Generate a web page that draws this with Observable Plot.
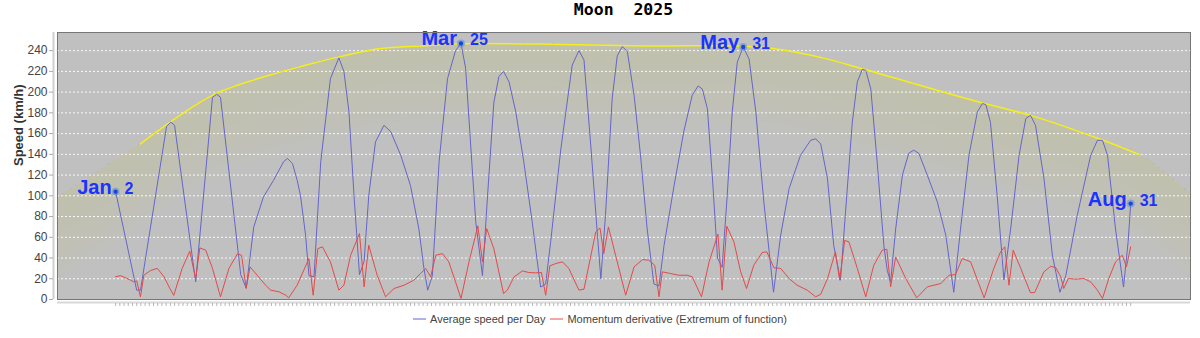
<!DOCTYPE html>
<html><head><meta charset="utf-8">
<script src="https://cdn.jsdelivr.net/npm/d3@7"></script>
<script src="https://cdn.jsdelivr.net/npm/@observablehq/plot@0.6"></script>
<style>
body{margin:0;background:#fff;width:1200px;height:338px;overflow:hidden;font-family:"Liberation Sans",Arial,sans-serif}
#title{height:27px;line-height:28px;margin-left:57px;width:1133px;text-align:center;font:bold 16.5px "DejaVu Sans Mono",monospace;color:#000;white-space:pre}
#chart{height:284px}
#legend{display:flex;justify-content:center;align-items:center;height:16px;font:11px "Liberation Sans",Arial,sans-serif;color:#444}
#legend svg{margin-right:4px;display:block}
</style></head><body>
<div id="title">Moon  2025</div>
<div id="chart"></div>
<div id="legend"><svg width="13" height="4"><line x1="0" x2="13" y1="2" y2="2" stroke="#7b7be0" stroke-width="1.2"/></svg>Average speed per Day<span style="display:inline-block;width:5px"></span><svg width="13" height="4"><line x1="0" x2="13" y1="2" y2="2" stroke="#ec6b6b" stroke-width="1.2"/></svg>Momentum derivative (Extremum of function)</div>
<script>
// day index (0 = Jan. 2, 241 = Aug. 31), speed km/h
const blueSeries = [[0,104],[5.0,9],[5.9,9],[12.1,167],[13.1,171],[14.0,168],[19.0,17],[23.0,195],[24.0,198],[24.9,195],[29.7,24],[31.0,11],[32.8,70],[35.1,99],[37.5,115],[39.9,133],[40.8,136],[42.0,131],[43.1,115],[43.9,100],[45.1,62],[45.9,23],[47.1,22],[48.7,133],[51.0,213],[53.0,233],[54.2,220],[55.4,181],[56.6,100],[57.9,24],[59.0,37],[60.1,100],[61.7,152],[63.7,168],[65.3,162],[67.7,139],[70.0,110],[72.0,68],[73.2,30],[74.1,9],[75.2,23],[76.8,133],[78.8,213],[80.7,240],[82,247],[83.1,223],[84.3,149],[85.5,75],[87.1,23],[88.3,100],[89.8,190],[91.0,215],[92.1,220],[93.4,210],[95.0,181],[96.9,133],[98.9,75],[100.9,12],[102.1,15],[103.3,56],[105.7,145],[108.4,226],[110.0,240],[111.2,231],[112.8,149],[114.4,62],[115.2,20],[116.3,81],[117.9,194],[119.1,235],[120.3,244],[121.5,239],[123.1,197],[124.6,140],[126.2,68],[127.8,15],[129.0,13],[130.2,52],[132.6,110],[134.9,162],[136.9,197],[138.3,206],[139.3,203],[140.5,184],[141.7,117],[142.9,40],[144.0,31],[145.2,100],[146.4,181],[147.6,229],[149,243.5],[150.4,232],[152.0,181],[153.9,94],[156.2,7],[157.9,62],[159.9,107],[162.6,139],[165.0,153.5],[166.2,155],[167.4,150],[169.0,117],[170.5,52],[172.1,18.6],[173.3,84.5],[174.9,171],[176.1,210],[177.3,222],[178.1,221],[179.3,203],[180.8,133],[182.4,52],[183.2,28],[184.0,17],[185.2,68],[186.8,120],[188.3,141],[189.5,144],[190.7,141],[192.7,120],[195.1,94],[197.1,62],[199.0,7],[200.6,68],[202.6,139],[204.6,181],[205.8,189],[206.6,188],[207.7,171],[209.3,100],[210.9,19],[212.5,68],[214.5,139],[216.1,174.5],[217.2,177.6],[218.4,168],[220.4,117],[222.4,43],[224.2,7],[225.6,23],[228.3,81],[231.5,139],[233.1,153.5],[234.3,153.5],[235.5,139],[237.4,68],[239.3,12],[240.4,56],[241,92.5]];

const redSeries = [[0,22],[1.2,23],[3.6,18.6],[4.3,17],[5.0,18],[5.9,2.6],[6.7,23.4],[8.3,28],[9.9,30],[11.5,22],[12.7,12],[13.8,4],[15.8,30],[17.6,46.6],[19.0,20],[20.0,49.8],[21.4,47.5],[23.0,30],[24.9,2.6],[26.9,30],[28.9,44],[29.9,42.7],[31.0,10.6],[31.9,31.5],[33.6,23.4],[35.6,13.8],[36.8,9],[38.8,7.4],[40.4,4.1],[41.1,1.6],[43.1,13.8],[45.9,39.5],[46.9,4.1],[48.0,49],[49.1,50.8],[51.0,36.3],[53.0,9],[54.2,13.8],[55.8,42.7],[57.9,63.6],[59.0,12.2],[60.1,52.3],[62.1,23.4],[64.1,2.6],[66.1,10.6],[68.5,13.8],[70.8,18.6],[72.4,25],[73.6,30],[74.8,21.9],[76.0,42.7],[77.6,44.3],[79.1,36.3],[80.7,17],[82.0,1],[83.9,36.3],[86.0,71],[87.1,36.3],[88.1,68.4],[89.8,49],[92.1,5.8],[93.0,9],[94.6,21.9],[96.6,27.6],[98.1,26],[99.7,25.7],[101.1,26],[102.1,4.1],[103.1,32.5],[104.5,34.7],[106.1,36.3],[107.6,30],[110.0,9],[111.2,10],[114.0,65.2],[115.0,69],[115.9,44.3],[117.0,70],[118.7,42.7],[121.1,4.1],[123.1,31.5],[125.1,38.5],[126.6,37.9],[128.0,33],[129.0,2.6],[129.8,26.7],[131.8,25],[133.7,23.4],[135.7,23.4],[136.9,21.9],[139.1,2.6],[140.9,36.3],[143.0,63],[144.0,9],[145.1,70.7],[146.8,55.6],[148.4,26.7],[149.8,10.6],[151.5,33],[153.5,45.3],[154.6,46],[156.3,30.6],[157.9,30],[159.9,20.2],[161.8,13.8],[164.2,9],[166.2,2.6],[167.4,5],[169.0,20],[170.9,46],[171.9,18.6],[173.1,57],[174.1,55.6],[176.1,30],[178.1,2.6],[180.0,33],[182.0,47.5],[183.1,48.5],[184.0,12.2],[185.2,41],[187.6,20.2],[190.2,1.6],[192.7,12.2],[195.9,15.4],[197.9,23.4],[199.4,24],[201.0,39.5],[203.0,36.3],[206.2,1.6],[208.5,30],[210.1,46],[211.1,50.8],[212.1,13.8],[213.1,47.5],[214.9,30],[217.2,6.5],[218.2,6.7],[220.4,26.7],[222.0,32],[223.2,30.8],[224.4,21.9],[225.1,10.6],[226.2,20.2],[227.9,19.6],[229.9,20.2],[231.5,17],[233.1,9],[234.3,1],[235.8,20.2],[237.4,36.3],[239.0,42.7],[240.0,31.5],[241,50.8]];

// upper envelope (yellow)
const envelope = [[5.9,150],[13.1,171.6],[24.0,199],[39.2,219.5],[43.9,224.6],[53.0,234],[62.9,242],[72.4,244.5],[82.0,246.7],[105.7,246],[125.8,244.5],[148.4,244.5],[156.0,242],[168.6,232.3],[177.7,222],[205.4,190],[217.2,177.6],[233.5,155],[243.0,139.8]];
const envelopeEnds = [[-13.8,98],[255.2,102]];

const labelDays = [0, 82, 149, 241];
const labelNames = ["Jan", "Mar", "May", "Aug"];
const labelNums = ["2", "25", "31", "31"];

const yTicks = [0,20,40,60,80,100,120,140,160,180,200,220,240];
const dayTicks = d3.range(0, 242);

const envArea = [envelopeEnds[0], ...envelope, envelopeEnds[1]];
const labelPts = labelDays.map((d, i) => ({
  d, v: blueSeries.find(p => p[0] === d)[1], name: labelNames[i], num: labelNums[i]
}));
const bandOffsets = d3.range(6, 90, 6);

const chart = Plot.plot({
  width: 1200, height: 284,
  marginLeft: 57, marginRight: 10, marginTop: 5, marginBottom: 12,
  x: {domain: [-13.8, 255.2], label: null},
  y: {domain: [0, 257.5], label: null},
  style: {fontFamily: "'Liberation Sans', Arial, sans-serif", fontSize: "12px", background: "white", color: "#444", overflow: "visible"},
  marks: [
    Plot.frame({fill: "#c0c0c0"}),
    ...bandOffsets.map(off => Plot.areaY(envArea, {
      x: p => p[0], y1: p => Math.max(0, p[1] - off), y2: p => p[1],
      curve: "catmull-rom", fill: "#e4e49a", fillOpacity: 0.028
    })),
    Plot.gridY(yTicks, {stroke: "#ffffff", strokeOpacity: 0.9, strokeDasharray: "2,2"}),
    Plot.line(envelope, {x: p => p[0], y: p => p[1], curve: "catmull-rom", stroke: "#f4ef1c", strokeWidth: 1.5}),
    Plot.line(blueSeries, {x: p => p[0], y: p => p[1], stroke: "#6565c9", strokeWidth: 1}),
    Plot.line(redSeries, {x: p => p[0], y: p => p[1], stroke: "#e24a4a", strokeWidth: 1}),
    Plot.dot(labelPts, {x: "d", y: "v", r: 4, fill: "#5b8ce0", fillOpacity: 0.55}),
    Plot.dot(labelPts, {x: "d", y: "v", r: 2.2, fill: "#1d44d8"}),
    Plot.text(labelPts, {x: "d", y: "v", text: "name", textAnchor: "end", lineAnchor: "bottom", dx: -4, dy: 2, fontSize: 20, fontWeight: "bold", fill: "#1a33ff"}),
    Plot.text(labelPts, {x: "d", y: "v", text: "num", textAnchor: "start", lineAnchor: "bottom", dx: 9, dy: 2, fontSize: 16, fontWeight: "bold", fill: "#1a33ff"}),
    Plot.ruleX([-13.8], {dx: -4, stroke: "#cfcfcf", strokeWidth: 2}),
    Plot.ruleY([0], {dy: 3, stroke: "#d8d8d8", strokeWidth: 2}),
    Plot.axisY({ticks: yTicks, tickSize: 4, tickPadding: 2, dx: -4, fontSize: 12, label: null, stroke: "#aaa", fill: "#444"}),
    Plot.axisX({ticks: dayTicks, tickSize: 3, tickFormat: () => "", dy: 4, label: null, stroke: "#999", strokeOpacity: 0.7}),
    Plot.frame({stroke: "#767676"}),
    Plot.text(["Speed (km/h)"], {frameAnchor: "left", rotate: -90, dx: -39, fontSize: 13, fontWeight: "bold", fill: "#333"})
  ]
});
document.getElementById("chart").append(chart);
</script>
</body></html>
